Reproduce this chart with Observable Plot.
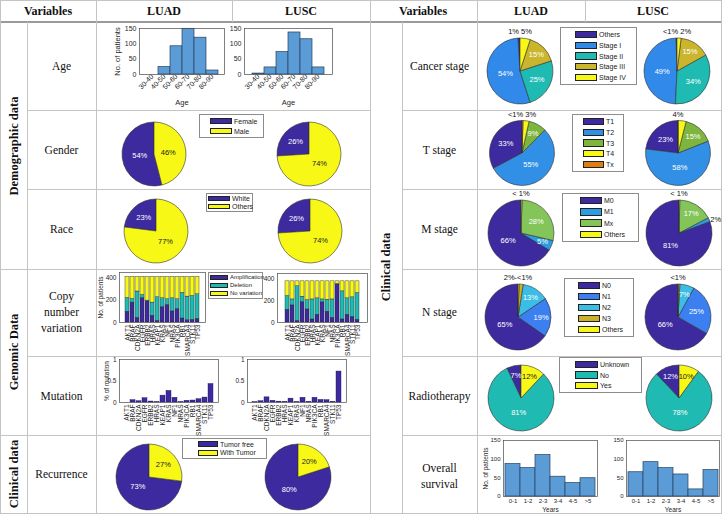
<!DOCTYPE html>
<html><head><meta charset="utf-8">
<script src="https://cdn.jsdelivr.net/npm/d3@7"></script>
<script src="https://cdn.jsdelivr.net/npm/@observablehq/plot@0.6"></script>
<style>
html,body{margin:0;padding:0;background:#fff;}
#page{position:relative;width:722px;height:515px;overflow:hidden;background:#fff;}
.tt{position:absolute;font-family:"Liberation Serif","Times New Roman",serif;color:#111;text-align:center;white-space:nowrap;}
.lg{position:absolute;border:1px solid #8c8c8c;background:#fff;box-sizing:border-box;font-family:"Liberation Sans",Arial,sans-serif;color:#222;}
.sw{position:absolute;border:0.8px solid #222;box-sizing:border-box;}
.ll{position:absolute;white-space:nowrap;}
</style>
</head><body><div id="page"></div>
<script>
// ---------------- DATA ----------------
const ageBins = ["30-40","40-50","50-60","60-70","70-80","80-90"];
const ageLUAD = [0, 24, 92, 149, 120, 13];
const ageLUSC = [3, 23, 73, 137, 115, 23];

const genderCats = ["Female","Male"];
const genderLUAD = [54, 46];
const genderLUSC = [26, 74];

const raceCats = ["White","Others"];
const raceLUAD = [23, 77];
const raceLUSC = [26, 74];

const genes = ["AKT1","BRAF","CDKN2A","EGFR","ERBB2","HRAS","KEAP1","KRAS","NF1","NRAS","PIK3CA","RB1","SMARCA4","STK11","TP53"];
const cnvTypes = ["Amplification","Deletion","No variation"];
const cnvAmpLUAD  = [97,179,42,221,191,61,15,139,158,100,121,36,21,24,33];
const cnvDelLUAD  = [124,33,237,27,6,118,212,79,51,118,88,231,212,215,221];
const cnvNoneLUAD = [189,198,131,162,213,231,183,192,201,192,201,143,177,171,156];
const cnvAmpLUSC  = [117,157,15,188,120,28,71,185,99,43,348,28,71,52,25];
const cnvDelLUSC  = [126,55,318,49,86,184,151,27,110,169,6,258,151,179,246];
const cnvNoneLUSC = [135,166,45,141,172,166,156,166,169,166,24,92,156,147,107];

const mutLUAD = [0,0.055,0.03,0.10,0.023,0.008,0.16,0.27,0.11,0.008,0.04,0.046,0.077,0.115,0.43];
const mutLUSC = [0.005,0.03,0.12,0.04,0.02,0.015,0.09,0.008,0.11,0.015,0.11,0.06,0.055,0.015,0.72];

const recCats = ["Tumor free","With Tumor"];
const recLUAD = [73, 27];
const recLUSC = [80, 20];

const stageCats = ["Others","Stage I","Stage II","Stage III","Stage IV"];
const stageLUAD = [1, 54, 25, 15, 5];
const stageLUSC = [0.5, 49, 34, 15, 2];
const stageLabLUAD = ["1%","54%","25%","15%","5%"];
const stageLabLUSC = ["<1%","49%","34%","15%","2%"];

const tCats = ["T1","T2","T3","T4","Tx"];
const tLUAD = [33, 55, 9, 3, 0.5];
const tLUSC = [23, 58, 15, 4, 0];
const tLabLUAD = ["33%","55%","9%","3%","<1%"];
const tLabLUSC = ["23%","58%","15%","4%",""];

const mCats = ["M0","M1","Mx","Others"];
const mLUAD = [66, 5, 28, 0.5];
const mLUSC = [81, 2, 17, 0.4];
const mLabLUAD = ["66%","5%","28%","< 1%"];
const mLabLUSC = ["81%","2%","17%","< 1%"];

const nCats = ["N0","N1","N2","N3","Others"];
const nLUAD = [65, 19, 13, 2, 0.5];
const nLUSC = [66, 25, 7, 0.6, 0.3];
const nLabLUAD = ["65%","19%","13%","2%-<1%",""];
const nLabLUSC = ["66%","25%","7%","<1%",""];

const radCats = ["Unknown","No","Yes"];
const radLUAD = [7, 81, 12];
const radLUSC = [12, 78, 10];

const survBins = ["0-1","1-2","2-3","3-4","4-5",">5"];
const survLUAD = [87, 76, 111, 53, 36, 49];
const survLUSC = [65, 92, 76, 59, 19, 71];

// ---------------- STYLES ----------------
const PURPLE = "#3d2a9e", YELLOW = "#f8f817", TEAL = "#1fbbb2";
const HIST = "#5b9bd6";
const page = document.getElementById("page");
const sans = "'Liberation Sans', Arial, sans-serif";
const baseStyle = {background:"transparent", fontFamily:sans, fontSize:"7px", color:"#262626", overflow:"visible"};

function put(node, left, top){ node.style.position="absolute"; node.style.left=left+"px"; node.style.top=top+"px"; page.appendChild(node); return node; }
function line(x, y, w, h, c){ const d=document.createElement("div"); d.style.cssText=`position:absolute;left:${x}px;top:${y}px;width:${w}px;height:${h}px;background:${c||"#c4c4c4"}`; page.appendChild(d); }
function label(html, cx, cy, size, bold, rot){
  const d=document.createElement("div"); d.className="tt"; d.innerHTML=html;
  d.style.left=cx+"px"; d.style.top=cy+"px"; d.style.fontSize=size+"px"; d.style.lineHeight="16px";
  d.style.fontWeight=bold?"bold":"normal";
  d.style.transform="translate(-50%,-50%)"+(rot?" rotate(-90deg)":"");
  page.appendChild(d);
}
function legend(x1, y1, x2, y2, items, colors, swOff, swW, fs){
  const d=document.createElement("div"); d.className="lg";
  d.style.left=x1+"px"; d.style.top=y1+"px"; d.style.width=(x2-x1)+"px"; d.style.height=(y2-y1)+"px";
  d.style.fontSize=(fs||7)+"px";
  const pad=2, rowH=(y2-y1-2*pad)/items.length, swH=Math.min(8, rowH*0.68);
  items.forEach((it,i)=>{
    const cy = pad + rowH*(i+0.5) - 1;
    const s=document.createElement("div"); s.className="sw";
    s.style.cssText+=`left:${swOff}px;top:${cy-swH/2}px;width:${swW}px;height:${swH}px;background:${colors[i]}`;
    d.appendChild(s);
    const t=document.createElement("div"); t.className="ll"; t.textContent=it;
    t.style.left=(swOff+swW+2)+"px"; t.style.top=(cy-4.5)+"px"; t.style.lineHeight="9px";
    d.appendChild(t);
  });
  page.appendChild(d);
}

// ---------------- TABLE GRID ----------------
line(0,0,722,1);
line(0,21,722,2,"#9a9a9a");
line(0,513,722,1);
[[27,110],[27,189],[0,269],[27,356],[0,435]].forEach(([x,y])=>line(x,y,370-x,1));
[110,189,269,356,435].forEach(y=>line(402,y,320,1));
line(0,0,1,514); line(27,22,1,492); line(96,0,1,514); line(232,0,1,22);
line(370,0,1,514); line(402,22,1,492); line(477,0,1,514); line(585,0,1,22); line(721,0,1,514);

label("Variables",48,11,12,true); label("LUAD",164,11,12,true); label("LUSC",301,11,12,true);
label("Variables",423,11,12,true); label("LUAD",531,11,12,true); label("LUSC",653,11,12,true);
label("Demographic data",13.5,146,12.5,true,true);
label("Genomic Data",13.5,352,12.5,true,true);
label("Clinical data",13.5,474,12.5,true,true);
label("Clinical data",386,267,12.5,true,true);
label("Age",61.5,66,11.5); label("Gender",61.5,149.5,11.5); label("Race",61.5,229,11.5);
label("Copy<br>number<br>variation",61.5,312,11.5); label("Mutation",61.5,395.5,11.5); label("Recurrence",61.5,474,11.5);
label("Cancer stage",439.5,66,11.5); label("T stage",439.5,149.5,11.5); label("M stage",439.5,229,11.5);
label("N stage",439.5,312,11.5); label("Radiotherapy",439.5,395.5,11.5); label("Overall<br>survival",439.5,476,11.5);

// ---------------- BAR CHARTS ----------------
function ylab(text, dx, fs){
  return Plot.text([text], {text:d=>d, frameAnchor:"left", dx, rotate:-90, textAnchor:"middle", lineAnchor:"middle", fontSize:fs});
}
function histogram(o){
  return put(Plot.plot({
    width:o.w, height:o.h, marginLeft:o.ml, marginRight:o.mr, marginTop:o.mt, marginBottom:o.mb,
    style: {...baseStyle, fontSize:o.fs+"px"},
    x:{domain:o.cats, paddingInner:0, paddingOuter:o.po, label:null, tickSize:0, tickPadding:o.rot?1:2, tickRotate:o.rot||0},
    y:{domain:[0,150], ticks:[0,50,100,150], label:null, tickSize:0, tickPadding:3},
    marks:[
      Plot.barY(o.vals, {x:o.cats, y:d=>d, fill:HIST, stroke:"#26405f", strokeWidth:0.7}),
      Plot.frame({stroke:"#4a4a4a", strokeWidth:0.7}),
      Plot.text([o.xlabel], {text:d=>d, frameAnchor:"bottom", dy:o.xdy, lineAnchor:"middle", fontSize:o.fs+0.5}),
      o.ylabel ? ylab(o.ylabel, o.ydx, o.fs+0.5) : null
    ]
  }), o.left, o.top);
}
histogram({left:100, top:24, w:130, h:85, ml:39, mr:6, mt:4, mb:35, fs:7, cats:ageBins, vals:ageLUAD, po:0.43, rot:-45, xlabel:"Age", xdy:28, ylabel:"No. of patients", ydx:-22});
histogram({left:225, top:24, w:112, h:85, ml:19, mr:5, mt:4, mb:35, fs:7, cats:ageBins, vals:ageLUSC, po:0.43, rot:-45, xlabel:"Age", xdy:28});
histogram({left:478, top:436, w:124, h:78, ml:25, mr:5, mt:4, mb:18, fs:6, cats:survBins, vals:survLUAD, po:0, xlabel:"Years", xdy:13.5, ylabel:"No. of patients", ydx:-18});
histogram({left:610, top:436, w:112, h:78, ml:16, mr:3, mt:4, mb:18, fs:6, cats:survBins, vals:survLUSC, po:0, xlabel:"Years", xdy:13.5});

function cnv(o){
  const rows = genes.flatMap((g,i)=>[
    {gene:g, type:cnvTypes[0], n:o.amp[i]},
    {gene:g, type:cnvTypes[1], n:o.del[i]},
    {gene:g, type:cnvTypes[2], n:o.none[i]}]);
  return put(Plot.plot({
    width:o.w, height:o.h, marginLeft:o.ml, marginRight:o.mr, marginTop:o.mt, marginBottom:o.mb,
    style: {...baseStyle, fontSize:"6.5px"},
    x:{domain:genes, paddingInner:0.15, paddingOuter:0.08, label:null, tickSize:0, tickPadding:2, tickRotate:-90},
    y:{domain:[0,450], ticks:[0,200,400], label:null, tickSize:0, tickPadding:3},
    color:{domain:cnvTypes, range:[PURPLE, TEAL, YELLOW]},
    marks:[
      Plot.barY(rows, {x:"gene", y:"n", fill:"type", stroke:"#222", strokeWidth:0.4}),
      Plot.frame({stroke:"#4a4a4a", strokeWidth:0.7}),
      o.ylabel ? ylab(o.ylabel, o.ydx, 6.5) : null
    ]
  }), o.left, o.top);
}
cnv({left:92, top:268, w:118, h:86, ml:27, mr:5, mt:4, mb:32, amp:cnvAmpLUAD, del:cnvDelLUAD, none:cnvNoneLUAD, ylabel:"No. of patients", ydx:-19});
cnv({left:262, top:268, w:110, h:86, ml:15, mr:5, mt:5, mb:32, amp:cnvAmpLUSC, del:cnvDelLUSC, none:cnvNoneLUSC});

function mutation(o){
  return put(Plot.plot({
    width:o.w, height:o.h, marginLeft:o.ml, marginRight:o.mr, marginTop:o.mt, marginBottom:o.mb,
    style: {...baseStyle, fontSize:"6.5px"},
    x:{domain:genes, paddingInner:0.25, paddingOuter:0.2, label:null, tickSize:0, tickPadding:2, tickRotate:-90},
    y:{domain:[0,1], ticks:[0,0.5,1], tickFormat:d=>String(d), label:null, tickSize:0, tickPadding:3},
    marks:[
      Plot.barY(o.vals, {x:genes, y:d=>d, fill:PURPLE, stroke:"#1d1550", strokeWidth:0.4}),
      Plot.frame({stroke:"#4a4a4a", strokeWidth:0.7}),
      o.ylabel ? ylab(o.ylabel, o.ydx, 6.5) : null
    ]
  }), o.left, o.top);
}
mutation({left:92, top:355, w:131, h:80, ml:27, mr:5, mt:4, mb:33, vals:mutLUAD, ylabel:"% of mutation", ydx:-13});
mutation({left:230, top:355, w:121, h:80, ml:17, mr:5, mt:4, mb:33, vals:mutLUSC});

// ---------------- PIE CHARTS ----------------
function pie(cx, cy, r, cats, vals, labs, colors){
  const W=130, H=100;
  const color = d3.scaleOrdinal(cats, colors);
  const texts = labs || vals.map(v => v < 1 ? "<1%" : Math.round(v) + "%");
  const chart = Plot.plot({
    width:W, height:H, margin:0, style:baseStyle,
    marks:[
      () => {
        const g = d3.create("svg:g").attr("transform", `translate(${W/2},${H/2})`);
        const arcs = d3.pie().sort(null).startAngle(0).endAngle(-2*Math.PI)(vals);
        const arc = d3.arc().innerRadius(0).outerRadius(r);
        g.selectAll("path").data(arcs).join("path")
          .attr("d", arc).attr("fill", (d,i)=>color(cats[i]))
          .attr("stroke", "#303030").attr("stroke-width", 0.6);
        const top = [];
        arcs.forEach((a,i)=>{
          const t = texts[i]; if (!t) return;
          const mid = (a.startAngle + a.endAngle)/2, v = vals[i];
          const sx = Math.sin(mid), sy = -Math.cos(mid);
          const nearTop = Math.abs(sx) < 0.4 && sy < 0;
          if (v <= 5 && nearTop) {
            top.push({x:sx, t});
          } else if (v >= 5) {
            const f = v < 20 ? 0.7 : v < 40 ? 0.58 : 0.45;
            const light = d3.lab(color(cats[i])).l > 85;
            g.append("text").attr("x", sx*r*f).attr("y", sy*r*f).attr("dy","0.35em")
              .attr("text-anchor","middle").attr("fill", light ? "#222" : "#fff")
              .attr("font-size", 7.5).text(t);
          } else {
            g.append("text").attr("x", sx*r*1.04).attr("y", sy*r*1.04).attr("dy","0.35em")
              .attr("text-anchor", sx > 0 ? "start" : "end").attr("fill","#111")
              .attr("font-size", 7.5).text(t);
          }
        });
        if (top.length) {
          top.sort((a,b)=>a.x-b.x);
          g.append("text").attr("x", 0).attr("y", -r-4).attr("text-anchor","middle")
            .attr("fill","#111").attr("font-size",7.5).text(top.map(d=>d.t).join(" "));
        }
        return g.node();
      }
    ]
  });
  put(chart, cx - W/2, cy - H/2);
}
const cGender=[PURPLE,YELLOW], cRace=[PURPLE,YELLOW], cRec=[PURPLE,YELLOW];
const cStage=[PURPLE,"#3189ea",TEAL,"#cbb52d",YELLOW];
const cT=[PURPLE,"#3190e6","#7db53e",YELLOW,"#e07d12"];
const cM=[PURPLE,"#2b9be2","#84c55a",YELLOW];
const cN=[PURPLE,"#3b7ff0","#3bbde8","#c9b12b",YELLOW];
const cRad=[PURPLE,TEAL,YELLOW];

pie(154,154,32,genderCats,genderLUAD,null,cGender); pie(309,154,32,genderCats,genderLUSC,null,cGender);
pie(156,231,32,raceCats,raceLUAD,null,cRace); pie(310,231,32,raceCats,raceLUSC,null,cRace);
pie(149,477,33,recCats,recLUAD,null,cRec); pie(298,477,33,recCats,recLUSC,null,cRec);
pie(520,71,33,stageCats,stageLUAD,stageLabLUAD,cStage); pie(677,71,33,stageCats,stageLUSC,stageLabLUSC,cStage);
pie(522,153,32.5,tCats,tLUAD,tLabLUAD,cT); pie(678,153,32.5,tCats,tLUSC,tLabLUSC,cT);
pie(521,233,33,mCats,mLUAD,mLabLUAD,cM); pie(679,233,33,mCats,mLUSC,mLabLUSC,cM);
pie(518,317,33,nCats,nLUAD,nLabLUAD,cN); pie(678,317,33,nCats,nLUSC,nLabLUSC,cN);
pie(521,398,33,radCats,radLUAD,null,cRad); pie(679,398,33,radCats,radLUSC,null,cRad);

// ---------------- LEGENDS ----------------
legend(199,114,264,138,genderCats,cGender,10,22);
legend(206,193,253,212,raceCats,cRace,1,22);
legend(208,272,263,299,cnvTypes,[PURPLE,TEAL,YELLOW],1,18,6);
legend(182,438,267,459,recCats,cRec,15,20);
legend(560,27,637,85,stageCats,cStage,14,22);
legend(572,114,624,172,tCats,cT,10,21);
legend(562,193,639,242,mCats,cM,17,22);
legend(564,278,634,337,nCats,cN,13,22);
legend(559,357,642,393,radCats,cRad,15,23);
</script></body></html>
